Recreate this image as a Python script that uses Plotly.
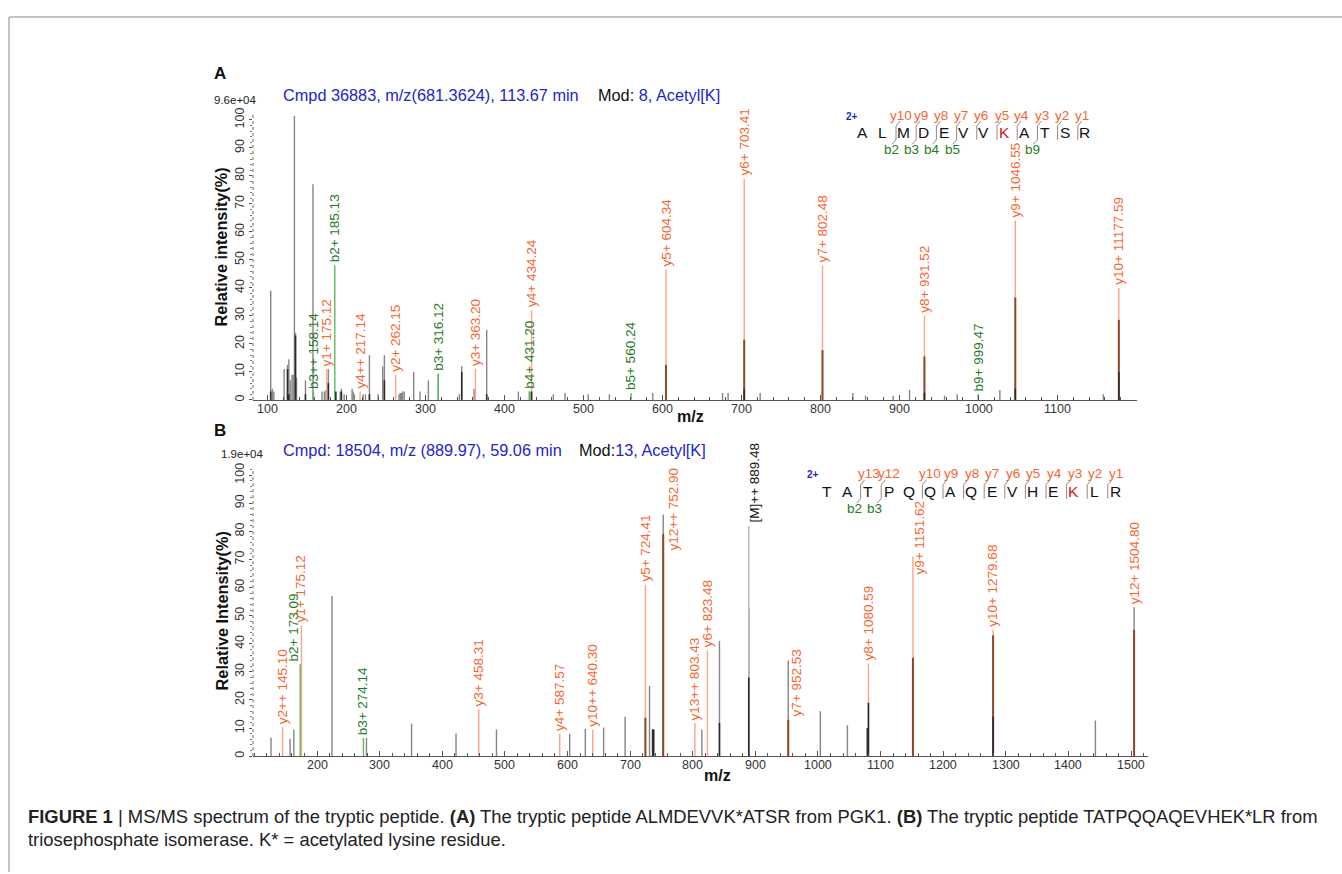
import plotly.graph_objects as go

# ---------------- data: panel A ----------------
A_gray_mz = [104, 106, 108, 121, 125.3, 127, 128.7, 131, 132.5, 134, 135.4, 136.7, 148, 157.5, 169, 172, 174, 177,
             192, 193.5, 197, 207, 208.5, 210, 221, 224, 229, 240, 245.8, 247.9, 266.5, 268, 269.5, 271, 273, 285,
             293, 303.6, 316.12, 342.8, 345.8, 361.4, 377.4, 417.5, 432, 461.8, 476.6, 506, 532.7, 587.6, 676, 683,
             723.6, 841, 857, 892, 912.7, 957, 973, 1027, 1158]
A_gray_int = [39, 4, 3, 11, 12.5, 14.5, 7, 9, 9, 101.5, 24, 8, 7, 77, 3, 3, 3.5, 11,
              3, 4, 2, 4, 3, 2, 2, 2, 16, 2, 12, 16, 2, 2.5, 2.5, 3, 3, 10,
              3, 7, 9, 2, 12, 4, 25, 3, 3, 2, 2.5, 2, 2, 2.5, 2.5, 2.5,
              2.5, 2.5, 1.5, 1.5, 3.6, 1.5, 2, 3.5, 2]
A_dark_mz = [104, 125.3, 127, 135.4, 148, 177, 186.5, 193.5, 229, 247.9, 345.8, 377.4, 434.24, 703.41, 931.52, 1046.55, 1177.59]
A_dark_int = [3, 11, 2, 23, 2, 6, 3, 3, 2, 7, 10, 2, 3, 4, 2.5, 4, 10]
A_ion_labels = ["b3++ 158.14", "y1+ 175.12", "b2+ 185.13", "y4++ 217.14", "y2+ 262.15", "b3+ 316.12", "y3+ 363.20",
                "b4+ 431.20", "y4+ 434.24", "b5+ 560.24", "y5+ 604.34", "y6+ 703.41", "y7+ 802.48", "y8+ 931.52",
                "b9+ 999.47", "y9+ 1046.55", "y10+ 11177.59"]
A_ion_mz = [158.14, 175.12, 185.13, 217.14, 262.15, 316.12, 363.20, 431.20, 434.24, 560.24, 604.34, 703.41, 802.48,
            931.52, 999.47, 1046.55, 1177.59]
A_ion_int = [3, 11, 48, 3, 9, 9.4, 11, 3, 32, 2.5, 46.6, 79, 48, 30, 2, 64, 40]
A_ion_brown = [0, 0, 0, 0, 0, 0, 0, 0, 0, 0, 12.5, 21.5, 17.8, 15.5, 0, 36.6, 28.6]
A_xticks = [100, 200, 300, 400, 500, 600, 700, 800, 900, 1000, 1100]

# ---------------- data: panel B ----------------
B_gray_mz = [126.6, 157, 163, 224, 279, 351, 422, 486.6, 603.5, 628.5, 657.7, 692, 731, 736, 737.5, 752.9, 814.6,
             842.7, 889.48, 952.53, 1003.8, 1047, 1079, 1443, 1504.80]
B_gray_int = [6.6, 6.2, 9.5, 57, 6.6, 11.5, 8.1, 9.5, 8, 9.7, 10.2, 14, 25, 9.5, 9.5, 86, 9.5,
              41, 52.6, 34, 16, 11, 10, 12.7, 53]
B_dark_mz = [736, 737.5, 842.7, 889.48, 1079, 1080.59, 1279.68]
B_dark_int = [9.5, 9.5, 11.8, 28, 10, 19, 14]
B_ion_labels = ["y2++ 145.10", "b2+ 173.09", "y1+ 175.12", "b3+ 274.14", "y3+ 458.31", "y4+ 587.57", "y10++ 640.30",
                "y5+ 724.41", "y12++ 752.90", "y13++ 803.43", "y6+ 823.48", "[M]++ 889.48", "y7+ 952.53",
                "y8+ 1080.59", "y9+ 1151.62", "y10+ 1279.68", "y12+ 1504.80"]
B_ion_mz = [145.10, 173.09, 175.12, 274.14, 458.31, 587.57, 640.30, 724.41, 752.90, 803.43, 823.48, 889.48, 952.53,
            1080.59, 1151.62, 1279.68, 1504.80]
B_ion_int = [10.3, 32.7, 46.5, 6.5, 16.7, 8, 9.5, 61, 79, 11.8, 37.7, 82, 13, 33, 71, 45, 45]
B_ion_brown = [0, 0, 0, 0, 0, 0, 0, 13.7, 79, 0, 0, 0, 13, 0, 35, 43, 45]
B_xticks = [200, 300, 400, 500, 600, 700, 800, 900, 1000, 1100, 1200, 1300, 1400, 1500]

yticks = [0, 10, 20, 30, 40, 50, 60, 70, 80, 90, 100]

seqA, seqA_y, seqA_b, seqA_mod = "ALMDEVVKATSR", [10, 9, 8, 7, 6, 5, 4, 3, 2, 1], [2, 3, 4, 5, 9], 7
seqB, seqB_y, seqB_b, seqB_mod = "TATPQQAQEVHEKLR", [13, 12, 10, 9, 8, 7, 6, 5, 4, 3, 2, 1], [2, 3], 12

# ---------------- style ----------------
W, H = 1342, 874
FONT = "Liberation Sans, Arial, sans-serif"
BLUE = "#2424c8"
Y_TXT, B_TXT, M_TXT = "#f7652f", "#1f7a1f", "#111111"
Y_LINE, B_LINE, M_LINE = "#ffa47e", "#5cbb5c", "#b8b8b8"
GRAY, DARK, BROWN = "#858585", "#2a2a2a", "#8a4a2a"


def PX(x):
    return x / W


def PY(y):
    return 1 - y / H


def stems(mz, h):
    xs, ys = [], []
    for m, v in zip(mz, h):
        if v > 0:
            xs += [m, m, None]
            ys += [0, v, None]
    return xs, ys


fig = go.Figure()


def add_stems(mz, h, color, width, xa, ya):
    xs, ys = stems(mz, h)
    fig.add_trace(go.Scatter(x=xs, y=ys, mode="lines", line=dict(color=color, width=width),
                             hoverinfo="skip", showlegend=False, xaxis=xa, yaxis=ya))


def kind(lbl):
    return "m" if lbl.startswith("[") else lbl[0]


label_over = {  # label placement tweaks: (xshift px, y base)
    "b2+ 173.09": (-7, None),
    "y12++ 752.90": (10, 72),
    "y7+ 952.53": (8, 13),
    "y9+ 1151.62": (7, 63.5),
    "[M]++ 889.48": (6, None),
}


def panel(gmz, gint, dmz, dint, labels, imz, iint, ibrown, xa, ya, xticks):
    add_stems(gmz, gint, GRAY, 1.4, xa, ya)
    for k, col in (("y", Y_LINE), ("b", B_LINE), ("m", M_LINE)):
        sel = [i for i, l in enumerate(labels) if kind(l) == k]
        add_stems([imz[i] for i in sel], [iint[i] for i in sel], col, 1.4, xa, ya)
    add_stems(imz, ibrown, BROWN, 2, xa, ya)
    add_stems(dmz, dint, DARK, 1.6, xa, ya)
    for l, m, v in zip(labels, imz, iint):
        base = max([v] + [g for gm, g in zip(gmz, gint) if abs(gm - m) < 0.01])
        xs, yb = label_over.get(l, (0, None))
        if yb is not None:
            base = yb
        col = {"y": Y_TXT, "b": B_TXT, "m": M_TXT}[kind(l)]
        fig.add_annotation(x=m, y=base, xref=xa, yref=ya, text=l, showarrow=False, textangle=-90,
                           xanchor="center", yanchor="bottom", xshift=xs, yshift=1,
                           font=dict(family=FONT, size=13.5, color=col))
    # x tick labels placed tight under the axis line
    for v in xticks:
        fig.add_annotation(x=v, y=0, xref=xa, yref=ya, text=str(v), showarrow=False, xanchor="center",
                           yanchor="top", yshift=-1, borderpad=0, font=dict(family=FONT, size=12.5, color="#333"))


panel(A_gray_mz, A_gray_int, A_dark_mz, A_dark_int, A_ion_labels, A_ion_mz, A_ion_int, A_ion_brown, "x", "y", A_xticks)
panel(B_gray_mz, B_gray_int, B_dark_mz, B_dark_int, B_ion_labels, B_ion_mz, B_ion_int, B_ion_brown, "x2", "y2", B_xticks)


def xaxis(dom, rng, tv):
    return dict(domain=dom, range=rng, showgrid=False, zeroline=False, showline=True, linecolor="#555",
                linewidth=1, ticks="inside", ticklen=5, tickcolor="#555", tickvals=tv, showticklabels=False,
                minor=dict(tickmode="linear", tick0=0, dtick=20, ticks="inside", ticklen=3, tickcolor="#555"))


def yaxis(dom, rng, anchor):
    return dict(domain=dom, range=rng, anchor=anchor, showgrid=False, zeroline=False, showline=False,
                ticks="outside", ticklen=3, tickcolor="#555", tickvals=yticks, tickangle=-90,
                tickfont=dict(family=FONT, size=12.5, color="#333"),
                minor=dict(tickmode="linear", tick0=0, dtick=2, ticks="outside", ticklen=2, tickcolor="#777"))


fig.update_layout(
    width=W, height=H, margin=dict(l=0, r=0, t=0, b=0), paper_bgcolor="white", plot_bgcolor="white",
    xaxis=dict(xaxis([PX(253), PX(1137)], [81.6, 1200.6], A_xticks), anchor="y"),
    yaxis=yaxis([PY(397), PY(109)], [0, 101.8], "x"),
    xaxis2=dict(xaxis([PX(253), PX(1148)], [97.8, 1527], B_xticks), anchor="y2"),
    yaxis2=yaxis([PY(757), PY(466.7)], [0, 102.2], "x2"),
)

# dotted y axis lines
for xr, yr in (("x domain", "y domain"), ("x2 domain", "y2 domain")):
    fig.add_shape(type="line", xref=xr, yref=yr, x0=0, x1=0, y0=0, y1=1,
                  line=dict(color="#666", width=1, dash="dot"))

# frame
fig.add_shape(type="line", xref="paper", yref="paper", x0=PX(9), x1=1, y0=PY(10), y1=PY(10),
              line=dict(color="#b0b0b0", width=1.5))
fig.add_shape(type="line", xref="paper", yref="paper", x0=PX(9), x1=PX(9), y0=PY(10), y1=0,
              line=dict(color="#b0b0b0", width=1.5))


def text(x, y, t, size, color="#111", anchor="center", angle=0, bold=False):
    fig.add_annotation(x=PX(x), y=PY(y), xref="paper", yref="paper", text=(f"<b>{t}</b>" if bold else t),
                       showarrow=False, xanchor=anchor, yanchor="middle", textangle=angle,
                       font=dict(family=FONT, size=size, color=color), borderpad=0)


# headers
text(219.5, 67, "A", 17, bold=True)
text(220, 427.5, "B", 17, bold=True)
text(235, 94.3, "9.6e+04", 11.5, "#222")
text(241.7, 451.7, "1.9e+04", 11.5, "#222")
text(281.7, 89, "Cmpd 36883, m/z(681.3624), 113.67 min", 16.3, BLUE, "left")
text(597.3, 89, f'Mod: <span style="color:{BLUE}">8, Acetyl[K]</span>', 16.3, "#111", "left")
text(281.7, 447.3, "Cmpd: 18504, m/z (889.97), 59.06 min", 16.3, BLUE, "left")
text(578.3, 447.3, f'Mod:<span style="color:{BLUE}">13, Acetyl[K]</span>', 16.3, "#111", "left")
text(221, 243, "Relative intensity(%)", 16.3, angle=-90, bold=True)
text(221.7, 610, "Relative Intensity(%)", 16.3, angle=-90, bold=True)
text(690, 414, "m/z", 16, bold=True)
text(717, 777, "m/z", 16, bold=True)


# sequence ladders
def ladder(seq, yions, bions, mod, x0, sp, yrow, ydx, bdx, cdx):
    n = len(seq)
    text(x0 + cdx, yrow - 16.5, "<b>2+</b>", 10, BLUE)
    for i, ch in enumerate(seq):
        text(x0 + i * sp, yrow, ch, 15.5, "#e01010" if i == mod else "#111")
    sites = sorted(set([n - k for k in yions] + list(bions)))
    for c in sites:
        xm = x0 + (c - 0.5) * sp + 3
        fig.add_shape(type="line", xref="paper", yref="paper", x0=PX(xm), x1=PX(xm),
                      y0=PY(yrow - 6.5), y1=PY(yrow + 7.5), line=dict(color="#8a8a8a", width=1))
    for k in yions:
        xm = x0 + (n - k - 0.5) * sp + 3
        fig.add_shape(type="line", xref="paper", yref="paper", x0=PX(xm), x1=PX(xm + 4),
                      y0=PY(yrow - 6.5), y1=PY(yrow - 11.5), line=dict(color="#8a8a8a", width=1))
        text(xm + ydx, yrow - 17.5, f"y{k}", 13.5, Y_TXT)
    for k in bions:
        xm = x0 + (k - 0.5) * sp + 3
        fig.add_shape(type="line", xref="paper", yref="paper", x0=PX(xm), x1=PX(xm - 4),
                      y0=PY(yrow + 7.5), y1=PY(yrow + 12), line=dict(color="#8a8a8a", width=1))
        text(xm + bdx, yrow + 17, f"b{k}", 13.5, B_TXT)


ladder(seqA, seqA_y, seqA_b, seqA_mod, 862.7, 20.2, 126.7, 4.5, -4.5, -11)
ladder(seqB, seqB_y, seqB_b, seqB_mod, 826.7, 20.6, 489.3, 8, -6.5, -13.7)

# caption
cap1 = ("<b>FIGURE 1</b> | MS/MS spectrum of the tryptic peptide. <b>(A)</b> The tryptic peptide ALMDEVVK*ATSR "
        "from PGK1. <b>(B)</b> The tryptic peptide TATPQQAQEVHEK*LR from")
cap2 = "triosephosphate isomerase. K* = acetylated lysine residue."
text(27, 818, cap1, 18.4, "#222", "left")
text(27, 841, cap2, 18.4, "#222", "left")

fig.write_html("out.html")
